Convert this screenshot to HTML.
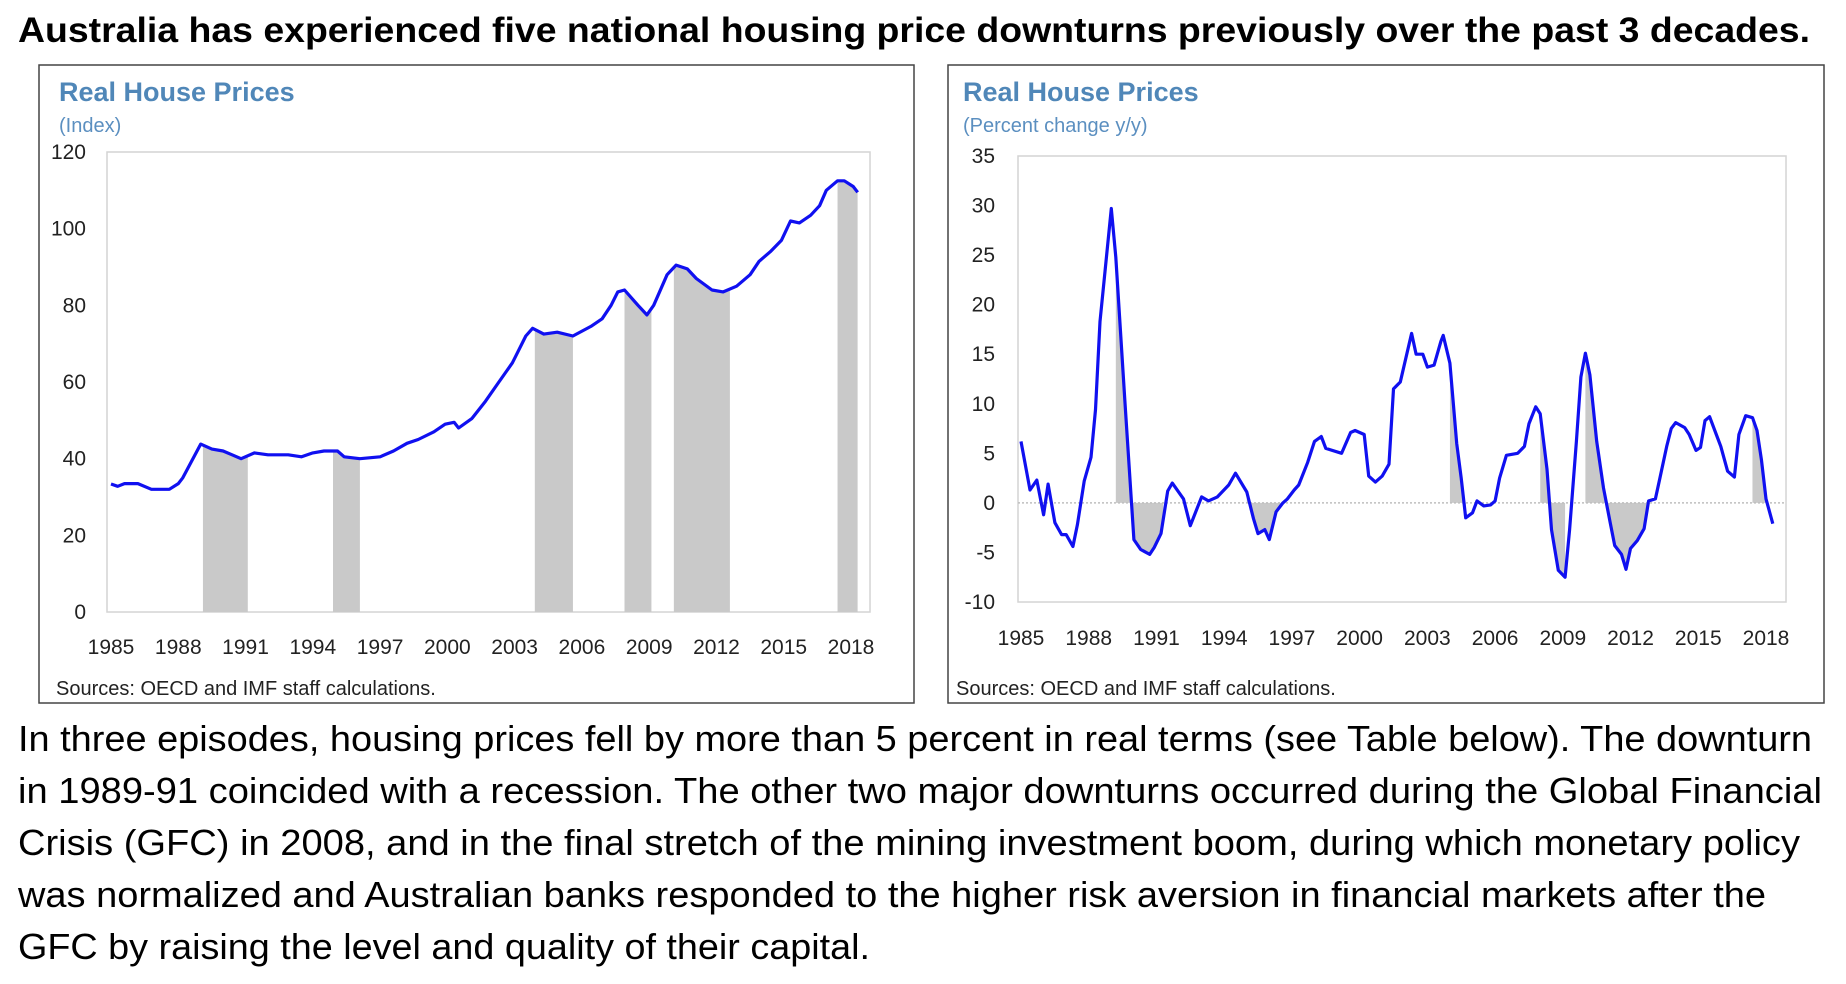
<!DOCTYPE html>
<html><head><meta charset="utf-8"><style>
html,body{margin:0;padding:0;background:#fff;}
svg{display:block;font-family:"Liberation Sans",sans-serif;}
</style></head><body>
<svg id="svg" width="1846" height="984" viewBox="0 0 1846 984">
<text x="18" y="42" font-size="35" font-weight="bold" fill="#000" textLength="1792" lengthAdjust="spacingAndGlyphs">Australia has experienced five national housing price downturns previously over the past 3 decades.</text>
<rect x="39" y="65" width="875" height="638" fill="#fff" stroke="#444" stroke-width="1.5"/>
<rect x="948" y="65" width="876" height="638" fill="#fff" stroke="#444" stroke-width="1.5"/>
<g id="left"></g>
<g id="right"></g>
<g font-size="36" fill="#000">
<text x="18" y="751" textLength="1794" lengthAdjust="spacingAndGlyphs">In three episodes, housing prices fell by more than 5 percent in real terms (see Table below). The downturn</text>
<text x="18" y="803" textLength="1804" lengthAdjust="spacingAndGlyphs">in 1989-91 coincided with a recession. The other two major downturns occurred during the Global Financial</text>
<text x="18" y="855" textLength="1782" lengthAdjust="spacingAndGlyphs">Crisis (GFC) in 2008, and in the final stretch of the mining investment boom, during which monetary policy</text>
<text x="18" y="907" textLength="1748" lengthAdjust="spacingAndGlyphs">was normalized and Australian banks responded to the higher risk aversion in financial markets after the</text>
<text x="18" y="959" textLength="852" lengthAdjust="spacingAndGlyphs">GFC by raising the level and quality of their capital.</text>
</g>
</svg>
<script>
const yearTicks = [1985,1988,1991,1994,1997,2000,2003,2006,2009,2012,2015,2018];
const leftYTicks = [0,20,40,60,80,100,120];
const rightYTicks = [-10,-5,0,5,10,15,20,25,30,35];
const leftYears = [1985.0,1985.3,1985.6,1986.2,1986.8,1987.6,1988.0,1988.2,1989.0,1989.5,1990.0,1990.4,1990.8,1991.4,1992.0,1992.9,1993.5,1994.0,1994.5,1995.1,1995.4,1996.1,1997.0,1997.6,1998.2,1998.7,1999.4,1999.9,2000.3,2000.5,2001.1,2001.7,2002.3,2002.9,2003.5,2003.8,2004.3,2004.9,2005.6,2006.4,2006.9,2007.3,2007.6,2007.9,2008.5,2008.9,2009.2,2009.8,2010.2,2010.7,2011.1,2011.8,2012.3,2012.9,2013.5,2013.9,2014.4,2014.9,2015.3,2015.7,2016.2,2016.6,2016.9,2017.4,2017.7,2018.1,2018.3];
const leftValues = [33.4,32.8,33.5,33.5,32,32,33.5,35,43.8,42.5,42,41,40,41.5,41,41,40.5,41.5,42,42,40.5,40,40.5,42,44,45,47,49,49.5,48,50.5,55,60,65,72,74,72.5,73,72,74.5,76.5,80,83.5,84,80,77.5,80,88,90.5,89.5,87,84,83.5,85,88,91.5,94,97,102,101.5,103.5,106,110,112.5,112.5,111,109.5];
const leftShade = [[1989.1,1991.1],[1994.9,1996.1],[2003.9,2005.6],[2007.9,2009.1],[2010.1,2012.6],[2017.4,2018.3]];
const rightYears = [1985.0,1985.4,1985.7,1986.0,1986.2,1986.5,1986.8,1987.0,1987.3,1987.5,1987.8,1988.1,1988.3,1988.5,1989.0,1989.2,1989.6,1990.0,1990.3,1990.7,1990.9,1991.2,1991.5,1991.7,1992.2,1992.5,1993.0,1993.3,1993.7,1994.2,1994.5,1995.0,1995.3,1995.5,1995.8,1996.0,1996.3,1996.6,1996.8,1997.1,1997.3,1997.7,1998.0,1998.3,1998.5,1999.2,1999.6,1999.8,2000.2,2000.4,2000.7,2001.0,2001.3,2001.5,2001.8,2002.3,2002.5,2002.8,2003.0,2003.3,2003.6,2003.7,2004.0,2004.3,2004.5,2004.7,2005.0,2005.2,2005.5,2005.8,2006.0,2006.2,2006.5,2007.0,2007.3,2007.5,2007.8,2008.0,2008.3,2008.5,2008.8,2009.1,2009.3,2009.6,2009.8,2010.0,2010.2,2010.5,2010.8,2011.1,2011.3,2011.6,2011.8,2012.0,2012.3,2012.6,2012.8,2013.1,2013.3,2013.6,2013.8,2014.0,2014.4,2014.6,2014.9,2015.1,2015.3,2015.5,2015.8,2016.0,2016.3,2016.6,2016.8,2017.1,2017.4,2017.6,2017.8,2018.0,2018.3];
const rightValues = [6.2,1.3,2.3,-1.2,1.9,-2,-3.2,-3.2,-4.4,-2.2,2.2,4.6,9.4,18.3,29.7,24.8,10.4,-3.7,-4.7,-5.2,-4.5,-3.1,1.2,2,0.4,-2.3,0.6,0.2,0.6,1.8,3,1.1,-1.6,-3.1,-2.7,-3.7,-0.9,0,0.4,1.3,1.8,4.1,6.2,6.7,5.5,5,7.1,7.3,6.9,2.7,2.1,2.7,3.9,11.5,12.2,17.1,15,15,13.7,13.9,16.3,16.9,14.1,6,2.5,-1.5,-1,0.2,-0.3,-0.2,0.2,2.5,4.8,5,5.7,8,9.7,9,3.4,-2.7,-6.8,-7.5,-2.7,6.2,12.7,15.1,12.9,6.2,1.5,-2,-4.3,-5.2,-6.7,-4.6,-3.8,-2.6,0.2,0.4,2.5,5.7,7.5,8.1,7.6,6.9,5.3,5.6,8.3,8.7,6.9,5.7,3.2,2.6,6.9,8.8,8.6,7.3,4.3,0.4,-2.1];
const rightShade = [[1989.2,1991.3],[1995.0,1996.5],[2004.0,2004.7],[2008.0,2009.1],[2010.0,2012.8],[2017.4,2018.1]];

const NS='http://www.w3.org/2000/svg';
function mk(parent,tag,attrs,txt){const e=document.createElementNS(NS,tag);for(const k in attrs)e.setAttribute(k,attrs[k]);if(txt!==undefined)e.textContent=txt;parent.appendChild(e);return e;}

function drawChart(cfg){
  const g=document.getElementById(cfg.id);
  const sx=y=>cfg.x0+(y-1985)*(cfg.x1-cfg.x0)/(2018-1985);
  const sy=v=>cfg.py1-(v-cfg.ymin)*(cfg.py1-cfg.py0)/(cfg.ymax-cfg.ymin);
  const t1=mk(g,'text',{x:cfg.tx,y:101,'font-size':27,'font-weight':'bold',fill:'#5087b8'},'Real House Prices');
  
  
  const t2=mk(g,'text',{x:cfg.tx,y:132,'font-size':20,fill:'#5b8fc0'},cfg.sub);
  
  
  const pa=mk(g,'rect',{x:cfg.px0,y:cfg.py0,width:cfg.px1-cfg.px0,height:cfg.py1-cfg.py0,fill:'none',stroke:'#d4d4d4','stroke-width':1.5});
  
  
  const base=sy(cfg.base);
  let d='M'+sx(cfg.years[0])+','+base;
  cfg.years.forEach((y,i)=>{d+=' L'+sx(y)+','+sy(cfg.vals[i]);});
  d+=' L'+sx(cfg.years[cfg.years.length-1])+','+base+' Z';
  cfg.shade.forEach((r,i)=>{
    const cid=cfg.id+'clip'+i;
    const cp=mk(g,'clipPath',{id:cid});
    mk(cp,'rect',{x:sx(r[0]),y:0,width:sx(r[1])-sx(r[0]),height:984});
    const s=mk(g,'path',{d:d,fill:'#c9c9c9','clip-path':'url(#'+cid+')'});
    
    
  });
  if(cfg.base!==cfg.ymin){
    const z=mk(g,'line',{x1:cfg.px0,x2:cfg.px1,y1:base,y2:base,stroke:'#bfbfbf','stroke-width':1.5,'stroke-dasharray':'2,2'});
    
    
  }
  cfg.yticks.forEach(v=>{
    const t=mk(g,'text',{x:cfg.lx,y:sy(v)+7,'font-size':21,'text-anchor':'end',fill:'#222'},String(v));
    
    
  });
  yearTicks.forEach(y=>{
    const t=mk(g,'text',{x:sx(y),y:cfg.yl,'font-size':21,'text-anchor':'middle',fill:'#222'},String(y));
    
    
  });
  const pts=cfg.years.map((y,i)=>sx(y).toFixed(1)+','+sy(cfg.vals[i]).toFixed(1)).join(' ');
  const ln=mk(g,'polyline',{points:pts,fill:'none',stroke:'#1010f0','stroke-width':3.2,'stroke-linejoin':'round'});
  
  
  const src=mk(g,'text',{x:cfg.sx,y:695,'font-size':20,fill:'#222'},'Sources: OECD and IMF staff calculations.');
  
  
}
drawChart({id:'left',sub:'(Index)',tx:59,sx:56,x0:111,x1:851,px0:107,px1:870,py0:152,py1:612,ymin:0,ymax:120,base:0,
  years:leftYears,vals:leftValues,shade:leftShade,yticks:leftYTicks,lx:86,yl:654});
drawChart({id:'right',sub:'(Percent change y/y)',tx:963,sx:956,x0:1021,x1:1766,px0:1018,px1:1786,py0:156,py1:602,ymin:-10,ymax:35,base:0,
  years:rightYears,vals:rightValues,shade:rightShade,yticks:rightYTicks,lx:995,yl:645});
</script>
</body></html>
